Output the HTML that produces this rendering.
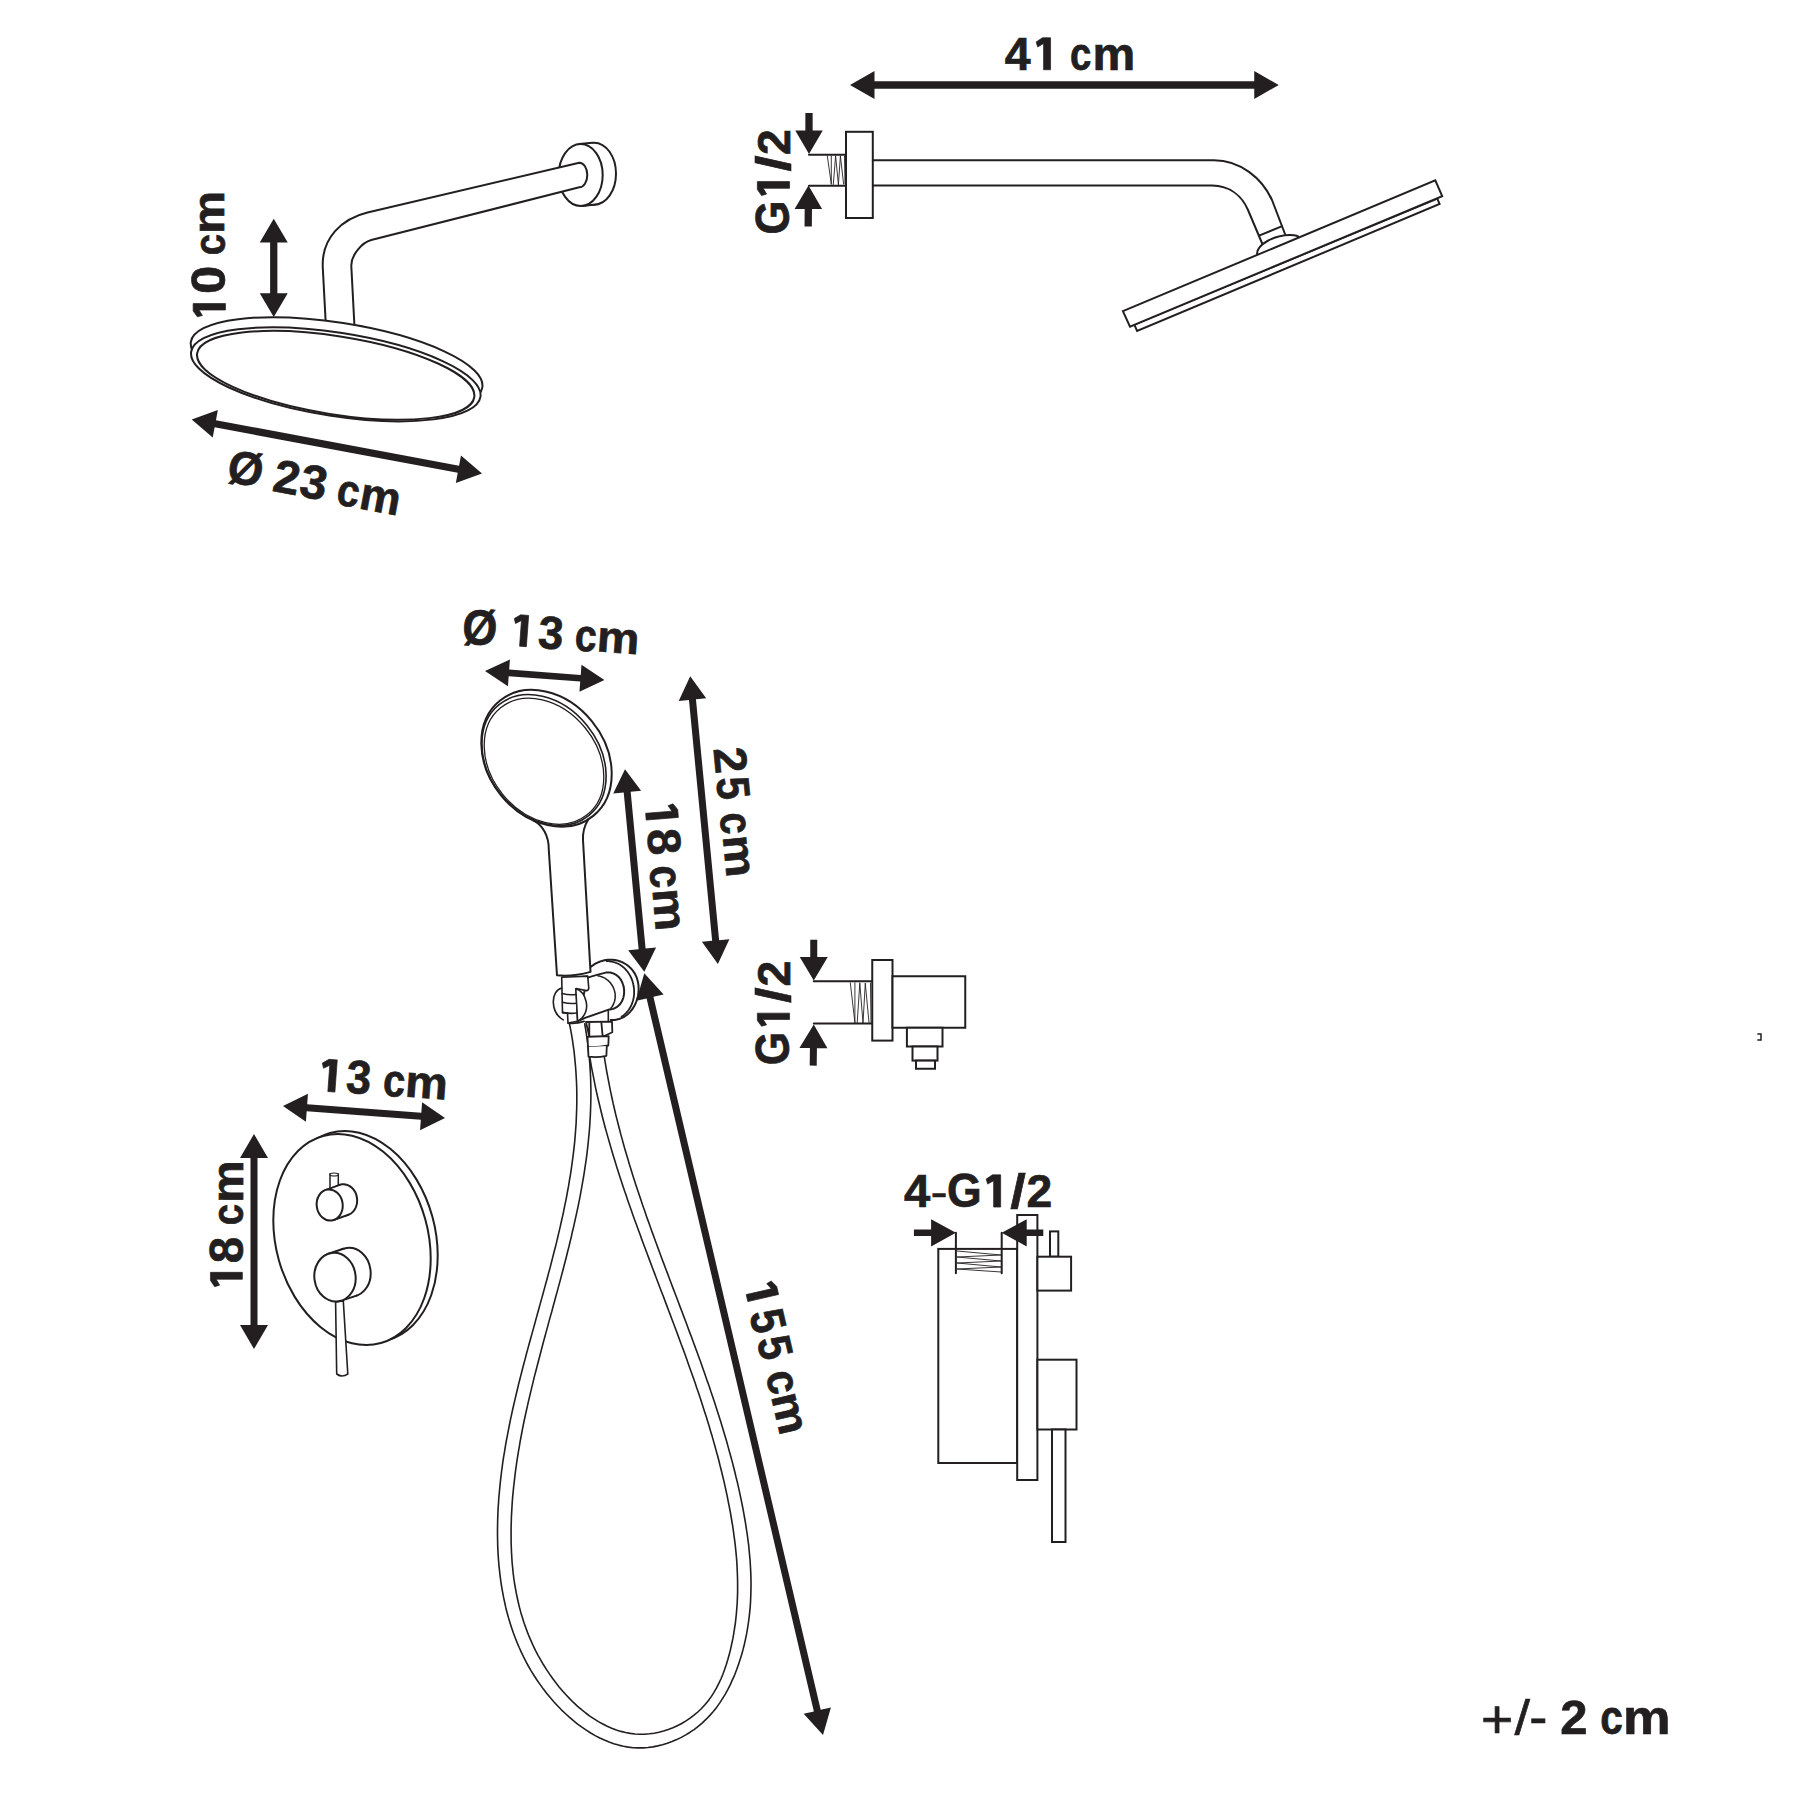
<!DOCTYPE html>
<html><head><meta charset="utf-8"><style>
html,body{margin:0;padding:0;background:#fff;width:1800px;height:1800px;overflow:hidden}
svg{display:block}
text{font-family:"Liberation Sans",sans-serif;fill:#231f20;stroke:#231f20;stroke-width:0.7px}
</style></head><body>
<svg width="1800" height="1800" viewBox="0 0 1800 1800">
<rect width="1800" height="1800" fill="#fff"/>
<ellipse cx="594" cy="173.7" rx="22" ry="31" transform="rotate(0 594 173.7)" fill="#fff" stroke="#231f20" stroke-width="2"/>
<polygon points="582.23,205.92 595.53,204.62 592.47,142.78 579.17,144.08" fill="#fff"/>
<path d="M582.23,205.92 L595.53,204.62 M579.17,144.08 L592.47,142.78" fill="none" stroke="#231f20" stroke-width="2" stroke-linejoin="round" stroke-linecap="round"/>
<ellipse cx="580.7" cy="175" rx="22" ry="31" transform="rotate(0 580.7 175)" fill="#fff" stroke="#231f20" stroke-width="2"/>
<path d="M325.6,322 L322.8,268 C321,238 342.5,218.4 367.5,212.5 L579.3,162.7 A8 12.3 0 0 1 579.3,187.3 L371.25,240 C362,242.5 351,255 351.3,266 L354.4,326 Z" fill="#fff"/>
<path d="M325.6,320.6 L322.8,268 C321,238 342.5,218.4 367.5,212.5 L579.3,162.7 A8 12.3 0 0 1 579.3,187.3 L371.25,240 C362,242.5 351,255 351.3,266 L354.4,325" fill="none" stroke="#231f20" stroke-width="2" stroke-linejoin="round" stroke-linecap="round"/>
<ellipse cx="336.6" cy="364.6" rx="147.5" ry="42" transform="rotate(8.86 336.6 364.6)" fill="#fff" stroke="#231f20" stroke-width="2"/>
<ellipse cx="335.8" cy="374.3" rx="146.4" ry="41.7" transform="rotate(8.86 335.8 374.3)" fill="#fff" stroke="#231f20" stroke-width="2"/>
<ellipse cx="335.7" cy="375.3" rx="140.3" ry="39.1" transform="rotate(9 335.7 375.3)" fill="none" stroke="#231f20" stroke-width="2"/>
<polygon points="273.75,218.75 259.75,242.5 270.12,242.5 270.12,293.25 259.75,293.25 273.75,317 287.75,293.25 277.38,293.25 277.38,242.5 287.75,242.5" fill="#231f20"/>
<polygon points="191.7,419.4 212.72,437.57 214.63,427.37 457.74,472.76 455.84,482.96 482,473.6 460.98,455.43 459.07,465.63 215.96,420.24 217.86,410.04" fill="#231f20"/>
<polygon points="850,85 874.5,99 874.5,88.75 1254.25,88.75 1254.25,99 1278.75,85 1254.25,71 1254.25,81.25 874.5,81.25 874.5,71" fill="#231f20"/>
<polygon points="805.35,113 805.35,130.5 795.25,130.5 809,154 822.75,130.5 812.65,130.5 812.65,113" fill="#231f20"/>
<polygon points="811.85,226.53 811.98,209.03 822.08,209.1 808.5,185.5 794.58,208.9 804.68,208.97 804.55,226.47" fill="#231f20"/>
<path d="M809,154.8 H846 M809,185.8 H846" fill="none" stroke="#231f20" stroke-width="2" stroke-linejoin="round" stroke-linecap="round"/>
<path d="M827.3,155.8 L831.3,184 M831.3,155.8 L831.3,184 M835.6,156 L833.3,184.5 M835.6,156 L838.4,184.5 M840.4,156.2 L838.4,184.5 M840.4,156.2 L843.6,184 M844.5,156 L845,184" fill="none" stroke="#231f20" stroke-width="0.9" stroke-linejoin="round" stroke-linecap="round"/>
<rect x="846" y="131.8" width="26.8" height="86.2" fill="#fff" stroke="#231f20" stroke-width="2"/>
<path d="M872.8,160.2 H1214 C1240,160.2 1262,178 1272,200 L1285,234" fill="none" stroke="#231f20" stroke-width="2" stroke-linejoin="round" stroke-linecap="round"/>
<path d="M872.8,185.6 H1212 C1230,186 1242,196 1248,210 L1262.4,244" fill="none" stroke="#231f20" stroke-width="2" stroke-linejoin="round" stroke-linecap="round"/>
<path d="M1259,235.6 L1281.6,226.4" fill="none" stroke="#231f20" stroke-width="2" stroke-linejoin="round" stroke-linecap="round"/>
<path d="M1257,254 C1257,244 1275,235 1290,235 C1296,235 1299,236 1298,237.5" fill="#fff" stroke="#231f20" stroke-width="2" stroke-linejoin="round" stroke-linecap="round"/>
<polygon points="1134.2,324.4 1437.3,198.7 1439.6,204 1137.1,330.9" fill="#fff" stroke="#231f20" stroke-width="2" stroke-linejoin="miter"/>
<polygon points="1122.9,311.1 1435.3,180.4 1442.2,196.2 1130,326.7" fill="#fff" stroke="#231f20" stroke-width="2" stroke-linejoin="miter"/>
<polygon points="485,671.1 507.93,686.35 508.68,676.22 580.22,681.56 579.46,691.68 604.4,680 581.47,664.75 580.72,674.88 509.18,669.54 509.94,659.42" fill="#231f20"/>
<ellipse cx="546.5" cy="758.35" rx="58.6" ry="74.1" transform="rotate(-39.1 546.5 758.35)" fill="#fff" stroke="#231f20" stroke-width="2"/>
<ellipse cx="544" cy="760" rx="55.2" ry="71.3" transform="rotate(-39.1 544 760)" fill="none" stroke="#231f20" stroke-width="1.6"/>
<ellipse cx="544" cy="761.2" rx="53" ry="68.8" transform="rotate(-39.1 544 761.2)" fill="none" stroke="#231f20" stroke-width="1.3"/>
<polygon points="690.2,676.3 678.72,701.01 688.97,700.03 712.16,940.84 701.91,941.83 717.9,963.9 729.38,939.19 719.13,940.17 695.94,699.36 706.19,698.37" fill="#231f20"/>
<polygon points="625,769.2 613.24,793.42 623.7,792.43 638.63,949.24 628.18,950.23 644.3,971.8 656.06,947.58 645.6,948.57 630.67,791.76 641.12,790.77" fill="#231f20"/>
<polygon points="810.25,939.75 810.25,956.9 799.75,956.9 813.75,980.6 827.75,956.9 817.25,956.9 817.25,939.75" fill="#231f20"/>
<polygon points="816.7,1065.65 816.93,1048.14 827.43,1048.28 813.75,1024.4 799.43,1047.91 809.93,1048.05 809.7,1065.55" fill="#231f20"/>
<path d="M813.75,981.25 H872.25 M813.75,1023.5 H872.25" fill="none" stroke="#231f20" stroke-width="2" stroke-linejoin="round" stroke-linecap="round"/>
<path d="M850.3,982.8 L854.9,1022.5 M854.9,982.8 L854.9,1022.5 M859.8,983.2 L857.2,1023 M859.8,983.2 L863,1023 M865.3,983.5 L863,1023 M865.3,983.5 L869,1022.5 M870.5,983 L871,1022.5" fill="none" stroke="#231f20" stroke-width="0.9" stroke-linejoin="round" stroke-linecap="round"/>
<rect x="872.25" y="960" width="20.25" height="80.6" fill="#fff" stroke="#231f20" stroke-width="2"/>
<rect x="892.5" y="976.25" width="72.75" height="51.5" fill="#fff" stroke="#231f20" stroke-width="2"/>
<rect x="906.9" y="1027.75" width="35.6" height="18.75" fill="#fff" stroke="#231f20" stroke-width="2"/>
<rect x="912.5" y="1046.5" width="25" height="14.1" fill="#fff" stroke="#231f20" stroke-width="2"/>
<rect x="916" y="1060.6" width="19" height="8.15" fill="#fff" stroke="#231f20" stroke-width="2"/>
<polygon points="283,1106 305.9,1121.73 306.68,1111.26 420.81,1119.72 420.03,1130.19 445,1118 422.1,1102.27 421.32,1112.74 307.19,1104.28 307.97,1093.81" fill="#231f20"/>
<polygon points="254,1134 240,1158 250.5,1158 250.5,1325 240,1325 254,1349 268,1325 257.5,1325 257.5,1158 268,1158" fill="#231f20"/>
<ellipse cx="359" cy="1236.5" rx="76" ry="107.5" transform="rotate(-15.6 359 1236.5)" fill="#fff" stroke="#231f20" stroke-width="2"/>
<ellipse cx="352" cy="1239.5" rx="76" ry="107.5" transform="rotate(-15.6 352 1239.5)" fill="#fff" stroke="#231f20" stroke-width="2"/>
<rect x="330" y="1174" width="8.3" height="15.4" fill="#fff" stroke="#231f20" stroke-width="1.5"/>
<ellipse cx="334.15" cy="1174.5" rx="4.1" ry="1.5" transform="rotate(0 334.15 1174.5)" fill="#fff" stroke="#231f20" stroke-width="1.2"/>
<ellipse cx="344.1" cy="1199.8" rx="13" ry="15.6" transform="rotate(-8 344.1 1199.8)" fill="#fff" stroke="#231f20" stroke-width="2"/>
<polygon points="334.07,1219.9 348.47,1214.7 339.73,1184.9 325.33,1190.1" fill="#fff"/>
<path d="M334.07,1219.9 L348.47,1214.7 M325.33,1190.1 L339.73,1184.9" fill="none" stroke="#231f20" stroke-width="2" stroke-linejoin="round" stroke-linecap="round"/>
<ellipse cx="329.7" cy="1205" rx="13" ry="15.6" transform="rotate(-8 329.7 1205)" fill="#fff" stroke="#231f20" stroke-width="2"/>
<path d="M335.6,1302 L336.7,1374 Q342,1378 347.8,1374 L343.3,1301 Z" fill="#fff" stroke="#231f20" stroke-width="1.6" stroke-linejoin="round" stroke-linecap="round"/>
<ellipse cx="350" cy="1272.2" rx="20.6" ry="24.4" transform="rotate(-8 350 1272.2)" fill="#fff" stroke="#231f20" stroke-width="2"/>
<polygon points="341.55,1300.62 356.55,1295.62 343.45,1248.78 328.45,1253.78" fill="#fff"/>
<path d="M341.55,1300.62 L356.55,1295.62 M328.45,1253.78 L343.45,1248.78" fill="none" stroke="#231f20" stroke-width="2" stroke-linejoin="round" stroke-linecap="round"/>
<ellipse cx="335" cy="1277.2" rx="20.6" ry="24.4" transform="rotate(-8 335 1277.2)" fill="#fff" stroke="#231f20" stroke-width="2"/>
<rect x="938.3" y="1248.9" width="78.9" height="214.1" fill="#fff" stroke="#231f20" stroke-width="2"/>
<path d="M955.9,1232.8 V1273.3 M1001.7,1232.8 V1273.3" fill="none" stroke="#231f20" stroke-width="2" stroke-linejoin="round" stroke-linecap="round"/>
<path d="M957,1251 L1001,1255 L957,1257 L1001,1261 L957,1263 L1001,1267 L957,1269 L1001,1272" fill="none" stroke="#231f20" stroke-width="0.9" stroke-linejoin="round" stroke-linecap="round"/>
<rect x="1017.2" y="1215" width="20.2" height="265" fill="#fff" stroke="#231f20" stroke-width="2"/>
<rect x="1050" y="1231.4" width="8.3" height="25.3" fill="#fff" stroke="#231f20" stroke-width="2"/>
<rect x="1037.4" y="1256.7" width="33.7" height="33.9" fill="#fff" stroke="#231f20" stroke-width="2"/>
<rect x="1037.4" y="1359.7" width="39.1" height="69.8" fill="#fff" stroke="#231f20" stroke-width="2"/>
<rect x="1052" y="1429.5" width="13.5" height="112.5" fill="#fff" stroke="#231f20" stroke-width="2"/>
<polygon points="913.9,1236 931.1,1236 931.1,1246.4 955.9,1232.8 931.1,1219.2 931.1,1229.6 913.9,1229.6" fill="#231f20"/>
<polygon points="1043.3,1229.6 1026.7,1229.6 1026.7,1219.2 1001.7,1232.8 1026.7,1246.4 1026.7,1236 1043.3,1236" fill="#231f20"/>
<path d="M569.4,1023.5 L570.5,1028.9 L571.5,1034.3 L572.4,1039.6 L573.1,1044.9 L573.9,1050.2 L574.5,1055.6 L575.0,1060.9 L575.5,1066.2 L575.9,1071.4 L576.2,1076.7 L576.5,1082.0 L576.7,1087.2 L576.8,1092.5 L576.8,1097.7 L576.8,1103.0 L576.7,1108.2 L576.5,1113.4 L576.3,1118.6 L576.1,1123.8 L575.7,1129.0 L575.3,1134.2 L574.9,1139.4 L574.4,1144.6 L573.8,1149.8 L573.2,1154.9 L572.5,1160.1 L571.8,1165.3 L571.1,1170.4 L570.3,1175.6 L569.4,1180.7 L568.6,1185.8 L567.6,1191.0 L566.7,1196.1 L565.7,1201.2 L564.6,1206.3 L563.6,1211.5 L562.5,1216.6 L561.3,1221.7 L560.2,1226.8 L559.0,1231.9 L557.8,1237.0 L556.6,1242.1 L555.3,1247.2 L554.0,1252.3 L552.7,1257.4 L551.4,1262.5 L550.1,1267.6 L548.7,1272.6 L547.4,1277.7 L546.0,1282.8 L544.6,1287.9 L543.2,1293.0 L541.8,1298.1 L540.4,1303.1 L539.0,1308.2 L537.6,1313.3 L536.2,1318.4 L534.8,1323.5 L533.4,1328.6 L532.0,1333.6 L530.6,1338.7 L529.2,1343.8 L527.8,1348.9 L526.4,1354.0 L525.1,1359.1 L523.7,1364.2 L522.4,1369.3 L521.1,1374.4 L519.8,1379.5 L518.5,1384.6 L517.3,1389.7 L516.1,1394.8 L514.9,1399.9 L513.7,1405.0 L512.5,1410.2 L511.4,1415.3 L510.3,1420.4 L509.3,1425.5 L508.3,1430.7 L507.3,1435.8 L506.3,1441.0 L505.4,1446.1 L504.6,1451.3 L503.7,1456.4 L502.9,1461.6 L502.2,1466.8 L501.5,1472.0 L500.9,1477.1 L500.3,1482.3 L499.8,1487.5 L499.3,1492.7 L498.8,1498.0 L498.5,1503.2 L498.1,1508.4 L497.9,1513.6 L497.7,1518.9 L497.6,1524.1 L497.5,1529.4 L497.5,1534.7 L497.6,1539.9 L497.7,1545.2 L497.9,1550.4 L498.2,1555.7 L498.6,1561.0 L499.0,1566.2 L499.6,1571.4 L500.2,1576.7 L500.9,1581.9 L501.7,1587.1 L502.6,1592.2 L503.6,1597.4 L504.7,1602.5 L505.8,1607.7 L507.1,1612.7 L508.5,1617.8 L510.0,1622.8 L511.6,1627.8 L513.3,1632.8 L515.2,1637.7 L517.1,1642.6 L519.2,1647.5 L521.4,1652.3 L523.7,1657.1 L526.1,1661.8 L528.6,1666.5 L531.3,1671.1 L534.2,1675.7 L537.1,1680.2 L540.2,1684.6 L543.4,1689.1 L546.8,1693.4 L550.2,1697.6 L553.8,1701.8 L557.5,1705.8 L561.4,1709.8 L565.3,1713.5 L569.3,1717.2 L573.4,1720.7 L577.6,1724.1 L581.9,1727.2 L586.3,1730.2 L590.7,1733.0 L595.2,1735.6 L599.8,1738.0 L604.4,1740.1 L609.1,1742.1 L613.8,1743.7 L618.6,1745.1 L623.4,1746.2 L628.3,1747.1 L633.2,1747.7 L638.1,1747.9 L643.0,1747.9 L647.9,1747.5 L652.8,1746.9 L657.7,1745.9 L662.5,1744.8 L667.3,1743.3 L672.0,1741.6 L676.7,1739.6 L681.3,1737.4 L685.8,1734.9 L690.1,1732.2 L694.4,1729.3 L698.5,1726.1 L702.4,1722.8 L706.2,1719.2 L709.9,1715.4 L713.3,1711.5 L716.6,1707.4 L719.6,1703.1 L722.5,1698.6 L725.3,1694.1 L727.9,1689.4 L730.3,1684.6 L732.5,1679.7 L734.7,1674.8 L736.6,1669.8 L738.4,1664.7 L740.1,1659.6 L741.7,1654.5 L743.1,1649.4 L744.4,1644.2 L745.5,1639.1 L746.6,1633.9 L747.5,1628.7 L748.3,1623.5 L749.0,1618.3 L749.6,1613.1 L750.1,1607.9 L750.5,1602.6 L750.7,1597.4 L750.9,1592.1 L751.0,1586.9 L751.0,1581.6 L750.9,1576.4 L750.7,1571.1 L750.4,1565.8 L750.1,1560.5 L749.6,1555.3 L749.1,1550.0 L748.6,1544.7 L747.9,1539.5 L747.2,1534.2 L746.4,1529.0 L745.6,1523.7 L744.7,1518.5 L743.8,1513.3 L742.8,1508.0 L741.8,1502.8 L740.7,1497.6 L739.6,1492.4 L738.5,1487.3 L737.3,1482.1 L736.0,1477.0 L734.8,1471.8 L733.5,1466.7 L732.2,1461.6 L730.8,1456.5 L729.4,1451.5 L728.0,1446.4 L726.6,1441.3 L725.1,1436.3 L723.6,1431.2 L722.1,1426.2 L720.6,1421.2 L719.0,1416.2 L717.4,1411.2 L715.8,1406.2 L714.2,1401.2 L712.5,1396.2 L710.8,1391.3 L709.2,1386.3 L707.4,1381.4 L705.7,1376.4 L704.0,1371.5 L702.2,1366.5 L700.5,1361.6 L698.7,1356.7 L696.9,1351.8 L695.1,1346.9 L693.3,1341.9 L691.5,1337.0 L689.6,1332.1 L687.8,1327.2 L686.0,1322.3 L684.1,1317.4 L682.3,1312.5 L680.4,1307.6 L678.6,1302.7 L676.7,1297.8 L674.9,1293.0 L673.0,1288.1 L671.2,1283.2 L669.3,1278.3 L667.5,1273.4 L665.6,1268.5 L663.8,1263.6 L661.9,1258.7 L660.1,1253.8 L658.3,1248.9 L656.5,1244.0 L654.7,1239.0 L652.9,1234.1 L651.1,1229.2 L649.4,1224.3 L647.6,1219.4 L645.9,1214.4 L644.2,1209.5 L642.4,1204.5 L640.8,1199.6 L639.1,1194.6 L637.4,1189.6 L635.8,1184.7 L634.2,1179.7 L632.6,1174.7 L631.1,1169.7 L629.5,1164.7 L628.0,1159.6 L626.5,1154.6 L625.0,1149.6 L623.6,1144.5 L622.2,1139.4 L620.8,1134.4 L619.5,1129.3 L618.2,1124.2 L616.9,1119.1 L615.6,1114.0 L614.4,1108.8 L613.2,1103.7 L612.1,1098.5 L611.0,1093.3 L609.9,1088.1 L608.9,1082.9 L607.9,1077.7 L606.9,1072.5 L606.0,1067.2 L605.1,1061.9 L604.3,1056.7" fill="none" stroke="#231f20" stroke-width="1.6" stroke-linejoin="round" stroke-linecap="round"/>
<path d="M584.7,1023.8 L585.6,1029.0 L586.4,1034.2 L587.2,1039.3 L587.9,1044.5 L588.5,1049.7 L589.0,1054.8 L589.5,1060.0 L589.9,1065.1 L590.2,1070.2 L590.5,1075.4 L590.7,1080.5 L590.8,1085.6 L590.9,1090.7 L590.9,1095.8 L590.8,1100.9 L590.7,1106.0 L590.5,1111.1 L590.3,1116.1 L590.0,1121.2 L589.7,1126.3 L589.3,1131.3 L588.8,1136.4 L588.3,1141.5 L587.8,1146.5 L587.2,1151.6 L586.6,1156.6 L585.9,1161.6 L585.1,1166.7 L584.4,1171.7 L583.6,1176.7 L582.7,1181.7 L581.8,1186.8 L580.9,1191.8 L580.0,1196.8 L579.0,1201.8 L578.0,1206.8 L576.9,1211.8 L575.8,1216.8 L574.7,1221.8 L573.6,1226.8 L572.4,1231.8 L571.3,1236.8 L570.1,1241.8 L568.9,1246.8 L567.6,1251.7 L566.4,1256.7 L565.1,1261.7 L563.8,1266.7 L562.5,1271.7 L561.2,1276.6 L559.9,1281.6 L558.5,1286.6 L557.2,1291.6 L555.8,1296.5 L554.5,1301.5 L553.1,1306.5 L551.8,1311.5 L550.4,1316.4 L549.0,1321.4 L547.7,1326.4 L546.3,1331.4 L545.0,1336.3 L543.6,1341.3 L542.3,1346.3 L541.0,1351.2 L539.7,1356.2 L538.4,1361.2 L537.1,1366.2 L535.8,1371.2 L534.5,1376.1 L533.3,1381.1 L532.1,1386.1 L530.9,1391.1 L529.7,1396.1 L528.5,1401.1 L527.4,1406.1 L526.3,1411.0 L525.2,1416.0 L524.1,1421.0 L523.1,1426.0 L522.1,1431.0 L521.2,1436.0 L520.2,1441.1 L519.4,1446.1 L518.5,1451.1 L517.7,1456.1 L516.9,1461.1 L516.2,1466.1 L515.5,1471.2 L514.9,1476.2 L514.3,1481.3 L513.7,1486.3 L513.2,1491.3 L512.7,1496.4 L512.3,1501.4 L512.0,1506.5 L511.7,1511.6 L511.4,1516.6 L511.3,1521.7 L511.1,1526.8 L511.1,1531.9 L511.1,1537.0 L511.1,1542.0 L511.3,1547.1 L511.5,1552.2 L511.8,1557.3 L512.1,1562.3 L512.6,1567.4 L513.1,1572.5 L513.7,1577.5 L514.4,1582.5 L515.3,1587.5 L516.2,1592.6 L517.2,1597.5 L518.3,1602.5 L519.5,1607.5 L520.8,1612.4 L522.3,1617.3 L523.8,1622.2 L525.5,1627.0 L527.3,1631.9 L529.2,1636.7 L531.3,1641.4 L533.4,1646.2 L535.7,1650.9 L538.2,1655.6 L540.8,1660.2 L543.5,1664.8 L546.4,1669.4 L549.4,1673.9 L552.5,1678.3 L555.7,1682.6 L559.1,1686.9 L562.6,1691.0 L566.2,1695.0 L569.9,1698.9 L573.7,1702.7 L577.6,1706.3 L581.6,1709.7 L585.7,1713.0 L589.8,1716.1 L594.1,1718.9 L598.4,1721.6 L602.8,1724.0 L607.2,1726.3 L611.7,1728.2 L616.3,1729.9 L620.9,1731.4 L625.6,1732.5 L630.3,1733.4 L635.0,1734.0 L639.8,1734.2 L644.6,1734.2 L649.4,1733.8 L654.2,1733.2 L658.9,1732.2 L663.6,1731.0 L668.3,1729.5 L672.9,1727.8 L677.3,1725.7 L681.7,1723.5 L686.0,1720.9 L690.1,1718.2 L694.0,1715.2 L697.8,1712.0 L701.5,1708.5 L704.9,1704.8 L708.1,1701.0 L711.1,1696.9 L713.8,1692.6 L716.4,1688.2 L718.7,1683.7 L720.9,1679.0 L722.9,1674.2 L724.7,1669.3 L726.4,1664.3 L727.9,1659.3 L729.3,1654.2 L730.6,1649.1 L731.7,1644.0 L732.8,1638.9 L733.7,1633.8 L734.5,1628.7 L735.3,1623.6 L735.9,1618.4 L736.4,1613.3 L736.8,1608.2 L737.2,1603.0 L737.4,1597.9 L737.6,1592.8 L737.6,1587.6 L737.6,1582.5 L737.5,1577.3 L737.3,1572.2 L737.1,1567.1 L736.8,1561.9 L736.4,1556.8 L735.9,1551.7 L735.4,1546.6 L734.8,1541.4 L734.1,1536.3 L733.4,1531.2 L732.7,1526.1 L731.8,1521.0 L731.0,1516.0 L730.1,1510.9 L729.1,1505.8 L728.1,1500.8 L727.1,1495.7 L726.0,1490.7 L724.9,1485.7 L723.8,1480.7 L722.6,1475.7 L721.4,1470.7 L720.1,1465.8 L718.9,1460.8 L717.6,1455.8 L716.2,1450.9 L714.9,1446.0 L713.5,1441.1 L712.1,1436.1 L710.6,1431.2 L709.2,1426.3 L707.7,1421.5 L706.2,1416.6 L704.6,1411.7 L703.1,1406.9 L701.5,1402.0 L699.9,1397.1 L698.3,1392.3 L696.6,1387.5 L695.0,1382.6 L693.3,1377.8 L691.6,1373.0 L689.9,1368.2 L688.2,1363.4 L686.5,1358.6 L684.8,1353.7 L683.0,1348.9 L681.2,1344.2 L679.5,1339.4 L677.7,1334.6 L675.9,1329.8 L674.1,1325.0 L672.3,1320.2 L670.5,1315.4 L668.7,1310.7 L666.9,1305.9 L665.1,1301.1 L663.3,1296.3 L661.4,1291.5 L659.6,1286.8 L657.8,1282.0 L656.0,1277.2 L654.2,1272.4 L652.4,1267.7 L650.6,1262.9 L648.8,1258.1 L647.0,1253.3 L645.2,1248.5 L643.4,1243.7 L641.6,1238.9 L639.9,1234.1 L638.1,1229.3 L636.4,1224.5 L634.6,1219.7 L632.9,1214.9 L631.2,1210.1 L629.5,1205.3 L627.8,1200.4 L626.2,1195.6 L624.5,1190.8 L622.9,1185.9 L621.3,1181.1 L619.7,1176.2 L618.2,1171.4 L616.6,1166.5 L615.1,1161.6 L613.6,1156.7 L612.1,1151.8 L610.7,1146.9 L609.3,1142.0 L607.9,1137.1 L606.5,1132.1 L605.1,1127.2 L603.8,1122.3 L602.5,1117.3 L601.3,1112.3 L600.1,1107.3 L598.9,1102.3 L597.7,1097.3 L596.6,1092.3 L595.5,1087.3 L594.5,1082.3 L593.5,1077.2 L592.5,1072.1 L591.5,1067.1 L590.6,1062.0 L589.8,1056.9" fill="none" stroke="#231f20" stroke-width="1.6" stroke-linejoin="round" stroke-linecap="round"/>
<polygon points="644.3,973.3 636.38,1000.84 646.6,998.44 813.88,1711.46 803.66,1713.86 823,1735 830.92,1707.46 820.7,1709.86 653.42,996.84 663.64,994.44" fill="#231f20"/>
<path d="M590.6,967.1 L591.3,966.4 L592.1,965.8 L592.9,965.3 L593.8,964.7 L594.6,964.2 L595.5,963.7 L596.3,963.2 L597.2,962.8 L598.1,962.4 L599.0,962.0 L599.9,961.6 L600.8,961.3 L601.8,961.0 L602.7,960.7 L603.7,960.5 L604.6,960.3 L605.5,960.1 L606.5,960.0 L607.5,959.8 L608.4,959.8 L609.4,959.7 L610.3,959.7 L611.3,959.7 L612.2,959.7 L613.2,959.8 L614.1,959.9 L615.0,960.0 L616.0,960.2 L616.9,960.4 L617.8,960.6 L618.7,960.9 L619.6,961.2 L620.5,961.5 L621.3,961.9 L622.2,962.2 L623.0,962.6 L623.9,963.1 L624.7,963.5 L625.5,964.0 L626.3,964.5 L627.0,965.0 L627.8,965.6 L628.5,966.2 L629.2,966.8 L629.9,967.4 L630.5,968.0 L631.2,968.7 L631.8,969.4 L632.4,970.1 L633.0,970.8 L633.5,971.6 L634.0,972.4 L634.5,973.1 L635.0,973.9 L635.4,974.8 L635.8,975.6 L636.2,976.4 L636.6,977.3 L636.9,978.2 L637.2,979.1 L637.4,980.0 L637.7,980.9 L637.9,981.8 L638.1,982.7 L638.2,983.6 L638.4,984.6 L638.5,985.5 L638.5,986.5 L638.6,987.4 L638.6,988.4 L638.6,989.4 L638.6,990.3 L638.5,991.3 L638.5,992.3 L638.3,993.2 L638.2,994.2 L638.1,995.1 L637.9,996.1 L637.7,997.0 L637.4,998.0 L637.2,998.9 L636.9,999.8 L636.6,1000.7 L636.3,1001.6 L635.9,1002.5 L635.6,1003.4 L635.2,1004.3 L634.7,1005.2 L634.3,1006.0 L633.8,1006.8 L633.3,1007.6 L632.8,1008.4 L632.3,1009.2 L631.7,1010.0 L631.1,1010.7 L630.5,1011.4 L629.9,1012.1 L629.2,1012.8 L628.6,1013.4 L627.9,1014.1 L627.1,1014.7 L626.4,1015.2 L625.6,1015.8 L624.9,1016.3 L624.1,1016.8 L623.2,1017.3 L622.4,1017.7 L621.5,1018.1 L620.6,1018.4 L619.7,1018.8 L618.8,1019.1 L617.9,1019.3 L616.9,1019.6 L615.9,1019.7 L614.9,1019.9 L613.9,1020.0 L612.8,1020.1 L611.8,1020.1 L610.7,1020.1 L590,1020 L588,975 Z" fill="#fff" stroke="#231f20" stroke-width="0" stroke-linejoin="round" stroke-linecap="round" stroke="none"/>
<path d="M590.6,967.1 L591.3,966.4 L592.1,965.8 L592.9,965.3 L593.8,964.7 L594.6,964.2 L595.5,963.7 L596.3,963.2 L597.2,962.8 L598.1,962.4 L599.0,962.0 L599.9,961.6 L600.8,961.3 L601.8,961.0 L602.7,960.7 L603.7,960.5 L604.6,960.3 L605.5,960.1 L606.5,960.0 L607.5,959.8 L608.4,959.8 L609.4,959.7 L610.3,959.7 L611.3,959.7 L612.2,959.7 L613.2,959.8 L614.1,959.9 L615.0,960.0 L616.0,960.2 L616.9,960.4 L617.8,960.6 L618.7,960.9 L619.6,961.2 L620.5,961.5 L621.3,961.9 L622.2,962.2 L623.0,962.6 L623.9,963.1 L624.7,963.5 L625.5,964.0 L626.3,964.5 L627.0,965.0 L627.8,965.6 L628.5,966.2 L629.2,966.8 L629.9,967.4 L630.5,968.0 L631.2,968.7 L631.8,969.4 L632.4,970.1 L633.0,970.8 L633.5,971.6 L634.0,972.4 L634.5,973.1 L635.0,973.9 L635.4,974.8 L635.8,975.6 L636.2,976.4 L636.6,977.3 L636.9,978.2 L637.2,979.1 L637.4,980.0 L637.7,980.9 L637.9,981.8 L638.1,982.7 L638.2,983.6 L638.4,984.6 L638.5,985.5 L638.5,986.5 L638.6,987.4 L638.6,988.4 L638.6,989.4 L638.6,990.3 L638.5,991.3 L638.5,992.3 L638.3,993.2 L638.2,994.2 L638.1,995.1 L637.9,996.1 L637.7,997.0 L637.4,998.0 L637.2,998.9 L636.9,999.8 L636.6,1000.7 L636.3,1001.6 L635.9,1002.5 L635.6,1003.4 L635.2,1004.3 L634.7,1005.2 L634.3,1006.0 L633.8,1006.8 L633.3,1007.6 L632.8,1008.4 L632.3,1009.2 L631.7,1010.0 L631.1,1010.7 L630.5,1011.4 L629.9,1012.1 L629.2,1012.8 L628.6,1013.4 L627.9,1014.1 L627.1,1014.7 L626.4,1015.2 L625.6,1015.8 L624.9,1016.3 L624.1,1016.8 L623.2,1017.3 L622.4,1017.7 L621.5,1018.1 L620.6,1018.4 L619.7,1018.8 L618.8,1019.1 L617.9,1019.3 L616.9,1019.6 L615.9,1019.7 L614.9,1019.9 L613.9,1020.0 L612.8,1020.1 L611.8,1020.1 L610.7,1020.1" fill="none" stroke="#231f20" stroke-width="2" stroke-linejoin="round" stroke-linecap="round"/>
<path d="M606.6,961.1 L607.3,961.2 L608.0,961.2 L608.7,961.2 L609.4,961.3 L610.0,961.4 L610.7,961.5 L611.4,961.6 L612.0,961.7 L612.7,961.8 L613.3,962.0 L613.9,962.2 L614.5,962.3 L615.1,962.5 L615.7,962.8 L616.3,963.0 L616.9,963.2 L617.5,963.5 L618.1,963.7 L618.6,964.0 L619.2,964.3 L619.7,964.6 L620.2,964.9 L620.7,965.3 L621.3,965.6 L621.8,966.0 L622.2,966.3 L622.7,966.7 L623.2,967.1 L623.7,967.5 L624.1,967.9 L624.6,968.3 L625.0,968.7 L625.4,969.2 L625.8,969.6 L626.2,970.1 L626.6,970.5 L627.0,971.0 L627.4,971.5 L627.8,972.0 L628.1,972.5 L628.5,973.0 L628.8,973.5 L629.1,974.0 L629.5,974.5 L629.8,975.1 L630.1,975.6 L630.4,976.2 L630.6,976.7 L630.9,977.3 L631.2,977.8 L631.4,978.4 L631.6,979.0 L631.9,979.6 L632.1,980.1 L632.3,980.7 L632.5,981.3 L632.7,981.9 L632.8,982.5 L633.0,983.1 L633.2,983.7 L633.3,984.3 L633.4,985.0 L633.5,985.6 L633.7,986.2 L633.7,986.8 L633.8,987.4 L633.9,988.0 L634.0,988.7 L634.0,989.3 L634.1,989.9 L634.1,990.5 L634.1,991.2 L634.1,991.8 L634.1,992.4 L634.1,993.1 L634.1,993.7 L634.1,994.3 L634.0,994.9 L633.9,995.5 L633.9,996.2 L633.8,996.8 L633.7,997.4 L633.6,998.0 L633.5,998.6 L633.3,999.2 L633.2,999.8 L633.0,1000.4 L632.9,1001.0 L632.7,1001.6 L632.5,1002.2 L632.3,1002.8 L632.1,1003.4 L631.9,1004.0 L631.6,1004.6 L631.4,1005.1 L631.1,1005.7 L630.9,1006.3 L630.6,1006.8 L630.3,1007.3 L630.0,1007.9 L629.6,1008.4 L629.3,1008.9 L629.0,1009.5 L628.6,1010.0 L628.2,1010.5 L627.8,1011.0 L627.4,1011.5 L627.0,1012.0 L626.6,1012.4 L626.2,1012.9 L625.7,1013.3 L625.2,1013.8 L624.8,1014.2 L624.3,1014.6 L623.8,1015.1 L623.3,1015.5 L622.7,1015.9 L622.2,1016.3 L621.6,1016.6" fill="none" stroke="#231f20" stroke-width="1.8" stroke-linejoin="round" stroke-linecap="round"/>
<path d="M587.6,977.6 Q598,974.5 606.7,972.4  L606.6,972.4 L607.4,972.4 L608.2,972.4 L609.0,972.4 L609.7,972.5 L610.5,972.6 L611.2,972.8 L611.9,973.0 L612.6,973.2 L613.2,973.4 L613.9,973.7 L614.5,974.0 L615.1,974.3 L615.7,974.6 L616.3,975.0 L616.8,975.4 L617.4,975.8 L617.9,976.3 L618.4,976.7 L618.9,977.2 L619.3,977.7 L619.7,978.2 L620.2,978.8 L620.6,979.3 L620.9,979.9 L621.3,980.5 L621.6,981.1 L621.9,981.7 L622.2,982.3 L622.5,983.0 L622.7,983.6 L623.0,984.3 L623.2,985.0 L623.4,985.6 L623.5,986.3 L623.7,987.0 L623.8,987.7 L623.9,988.4 L624.0,989.1 L624.1,989.8 L624.1,990.5 L624.1,991.2 L624.1,991.9 L624.1,992.6 L624.1,993.3 L624.0,994.0 L623.9,994.7 L623.8,995.4 L623.7,996.1 L623.5,996.7 L623.4,997.4 L623.2,998.1 L623.0,998.7 L622.7,999.4 L622.5,1000.0 L622.2,1000.6 L621.9,1001.2 L621.6,1001.8 L621.2,1002.4 L620.8,1003.0 L620.5,1003.5 L620.0,1004.0 L619.6,1004.6 L619.1,1005.0 L618.7,1005.5 L618.2,1006.0 L617.6,1006.4 L617.1,1006.8 L616.5,1007.2 L615.9,1007.5 L615.3,1007.9 L614.6,1008.2 L614.0,1008.5 L613.3,1008.7 L612.6,1008.9 L611.8,1009.1 L611.1,1009.3 L610.3,1009.4 L609.5,1009.5 L608.7,1009.6 L585,1017.9 L577.6,1021.3 Z" fill="#fff" stroke="#231f20" stroke-width="2" stroke-linejoin="round" stroke-linecap="round"/>
<path d="M597.9,975.8 L598.5,975.9 L599.0,976.0 L599.6,976.1 L600.1,976.3 L600.7,976.4 L601.2,976.6 L601.7,976.8 L602.2,977.0 L602.8,977.2 L603.3,977.4 L603.7,977.6 L604.2,977.9 L604.7,978.1 L605.2,978.4 L605.6,978.7 L606.1,979.0 L606.5,979.3 L606.9,979.6 L607.3,979.9 L607.8,980.2 L608.2,980.6 L608.5,980.9 L608.9,981.3 L609.3,981.7 L609.7,982.1 L610.0,982.4 L610.4,982.8 L610.7,983.3 L611.0,983.7 L611.3,984.1 L611.6,984.5 L611.9,985.0 L612.2,985.4 L612.4,985.9 L612.7,986.3 L612.9,986.8 L613.2,987.2 L613.4,987.7 L613.6,988.2 L613.8,988.7 L614.0,989.2 L614.1,989.7 L614.3,990.2 L614.5,990.7 L614.6,991.2 L614.7,991.7 L614.8,992.2 L614.9,992.7 L615.0,993.2 L615.1,993.7 L615.1,994.2 L615.2,994.8 L615.2,995.3 L615.2,995.8 L615.2,996.3 L615.2,996.8 L615.2,997.4 L615.1,997.9 L615.1,998.4 L615.0,998.9 L614.9,999.5 L614.8,1000.0 L614.7,1000.5 L614.6,1001.0 L614.5,1001.5 L614.3,1002.0 L614.1,1002.5 L613.9,1003.0 L613.7,1003.5 L613.5,1004.0 L613.3,1004.5 L613.0,1005.0 L612.8,1005.5 L612.5,1006.0 L612.2,1006.5 L611.9,1006.9 L611.5,1007.4 L611.2,1007.9 L610.8,1008.3" fill="none" stroke="#231f20" stroke-width="1.5" stroke-linejoin="round" stroke-linecap="round"/>
<path d="M608.3,1010 V1020.5" fill="none" stroke="#231f20" stroke-width="1.6" stroke-linejoin="round" stroke-linecap="round"/>
<path d="M553,920 L557,975.3 Q572,977 590.5,971.9 L587.5,920 Z" fill="#fff"/>
<path d="M532.7,820.2 C543,825 549,836 548.8,850 L557,975.3 Q572,977 590.5,971.9 L583,840 C582.6,832 584.5,825.5 588.2,819.4" fill="none" stroke="#231f20" stroke-width="2" stroke-linejoin="round" stroke-linecap="round"/>
<path d="M562,977.3 Q575,976.8 587.7,975.8" fill="none" stroke="#231f20" stroke-width="1.2" stroke-linejoin="round" stroke-linecap="round"/>
<path d="M561.7,977.3 L587.7,976.2 L588.8,988.2 Q588.5,990.8 586.3,990.6 Q581,989.5 576.2,988.5 L577.6,1021.3 L568,1023 L567.5,1013 L562.5,1013 Z" fill="#fff" stroke="#231f20" stroke-width="1.6" stroke-linejoin="round" stroke-linecap="round"/>
<path d="M562.2,993.5 Q569,995.3 575.8,994.5 M562.5,1002.3 Q569,1004 576.3,1003.3 M562.8,1012.2 Q569,1014 576.8,1013" fill="none" stroke="#231f20" stroke-width="1.6" stroke-linejoin="round" stroke-linecap="round"/>
<path d="M568.2,1023.1 Q576,1024 584.1,1021.3" fill="none" stroke="#231f20" stroke-width="1.8" stroke-linejoin="round" stroke-linecap="round"/>
<path d="M561.7,988.1 C550.5,991 550,1012 563.2,1019.9" fill="none" stroke="#231f20" stroke-width="1.6" stroke-linejoin="round" stroke-linecap="round"/>
<path d="M575.8,988.8 C586,992 591,1009 581.6,1018.3 L577.6,1021.3 Z" fill="#fff" stroke="#231f20" stroke-width="1.6" stroke-linejoin="round" stroke-linecap="round"/>
<path d="M586,1022 L612,1021.7 L612.3,1032.3 L602.7,1036.7 L589.3,1036.7 Z M589.3,1022 V1036.7 M601.3,1022 L602.7,1036.7" fill="#fff" stroke="#231f20" stroke-width="1.8" stroke-linejoin="round" stroke-linecap="round"/>
<path d="M587.5,1036.9 L608.7,1036.2 L608.3,1045.5 Q598,1047.5 588,1047 Z" fill="#fff" stroke="#231f20" stroke-width="1.8" stroke-linejoin="round" stroke-linecap="round"/>
<path d="M588,1047 L588.5,1056.6 Q597,1057.8 606.4,1055.8 L606.8,1046" fill="#fff" stroke="#231f20" stroke-width="1.8" stroke-linejoin="round" stroke-linecap="round"/>
<path d="M1757.3,1034 H1761 V1040 H1757.3" fill="none" stroke="#231f20" stroke-width="1.5" stroke-linejoin="miter"/>
<text transform="translate(1017.9 53.75) rotate(0) translate(-13.154 16.000) scale(0.46486 0.46512)" font-size="100" font-weight="bold" style="stroke-width:1.505px">4</text>
<path transform="translate(1043.35 53.75) rotate(0) translate(-7.200 16.000) scale(0.95364 0.97859)" d="M7.8,0 L15.1,0 L15.1,-32.7 L6.6,-32.7 L0,-28.4 L1.6,-23.3 L7.8,-26.8Z" fill="#231f20" stroke="#231f20" stroke-width="0.725" stroke-linejoin="miter"/>
<text transform="translate(1080.9 57.4) rotate(0) translate(-10.847 12.392) scale(0.38336 0.46911)" font-size="100" font-weight="bold" style="stroke-width:1.642px">c</text>
<text transform="translate(1113.95 57.25) rotate(0) translate(-21.469 12.500) scale(0.48080 0.46419)" font-size="100" font-weight="bold" style="stroke-width:1.481px">m</text>
<text transform="translate(917.3 1190.95) rotate(0) translate(-13.365 16.100) scale(0.47233 0.46803)" font-size="100" font-weight="bold" style="stroke-width:1.489px">4</text>
<text transform="translate(939 1194.85) rotate(0) translate(-8.042 7.834) scale(0.48443 0.30216)" font-size="100" font-weight="bold" style="stroke-width:1.780px">-</text>
<text transform="translate(963.9 1190.75) rotate(0) translate(-16.880 16.726) scale(0.44605 0.48587)" font-size="100" font-weight="bold" style="stroke-width:1.502px">G</text>
<path transform="translate(993.4 1190.95) rotate(0) translate(-7.250 16.100) scale(0.96026 0.98471)" d="M7.8,0 L15.1,0 L15.1,-32.7 L6.6,-32.7 L0,-28.4 L1.6,-23.3 L7.8,-26.8Z" fill="#231f20" stroke="#231f20" stroke-width="0.720" stroke-linejoin="miter"/>
<text transform="translate(1018.1 1191.4) rotate(0) translate(-7.798 16.890) scale(0.56136 0.47943)" font-size="100" font-weight="bold" style="stroke-width:1.345px">/</text>
<text transform="translate(1039.3 1190.95) rotate(0) translate(-12.756 16.100) scale(0.46319 0.46116)" font-size="100" font-weight="bold" style="stroke-width:1.515px">2</text>
<text transform="translate(1497.15 1720.3) rotate(0) translate(-16.093 18.146) scale(0.55162 0.54572)" font-size="100" font-weight="normal" style="stroke-width:1.276px">+</text>
<text transform="translate(1522.2 1717.6) rotate(0) translate(-7.750 17.765) scale(0.55789 0.49702)" font-size="100" font-weight="normal" style="stroke-width:1.327px">/</text>
<text transform="translate(1538.4 1720.85) rotate(0) translate(-9.071 14.280) scale(0.54477 0.53760)" font-size="100" font-weight="normal" style="stroke-width:1.293px">-</text>
<text transform="translate(1573.65 1716.75) rotate(0) translate(-13.499 16.900) scale(0.49019 0.48407)" font-size="100" font-weight="bold" style="stroke-width:1.437px">2</text>
<text transform="translate(1611.65 1721.65) rotate(0) translate(-11.486 12.633) scale(0.40591 0.47823)" font-size="100" font-weight="bold" style="stroke-width:1.583px">c</text>
<text transform="translate(1646.95 1721.35) rotate(0) translate(-23.933 12.800) scale(0.53597 0.47533)" font-size="100" font-weight="bold" style="stroke-width:1.384px">m</text>
<path transform="translate(209.3 310.2) rotate(-90) translate(-6.650 16.150) scale(0.88079 0.98777)" d="M7.8,0 L15.1,0 L15.1,-32.7 L6.6,-32.7 L0,-28.4 L1.6,-23.3 L7.8,-26.8Z" fill="#231f20" stroke="#231f20" stroke-width="0.749" stroke-linejoin="miter"/>
<text transform="translate(208.7 279.85) rotate(-90) translate(-14.113 16.288) scale(0.50885 0.47316)" font-size="100" font-weight="bold" style="stroke-width:1.426px">0</text>
<text transform="translate(212.8 244.5) rotate(-90) translate(-10.847 11.813) scale(0.38336 0.44720)" font-size="100" font-weight="bold" style="stroke-width:1.686px">c</text>
<text transform="translate(212.25 212.25) rotate(-90) translate(-21.469 12.100) scale(0.48080 0.44933)" font-size="100" font-weight="bold" style="stroke-width:1.505px">m</text>
<text transform="translate(772.7 217.95) rotate(-90) translate(-16.487 16.774) scale(0.43568 0.48728)" font-size="100" font-weight="bold" style="stroke-width:1.517px">G</text>
<path transform="translate(773.45 188.55) rotate(-90) translate(-7.000 16.100) scale(0.92715 0.98471)" d="M7.8,0 L15.1,0 L15.1,-32.7 L6.6,-32.7 L0,-28.4 L1.6,-23.3 L7.8,-26.8Z" fill="#231f20" stroke="#231f20" stroke-width="0.732" stroke-linejoin="miter"/>
<text transform="translate(773.15 163.5) rotate(-90) translate(-8.013 16.748) scale(0.57685 0.47540)" font-size="100" font-weight="bold" style="stroke-width:1.330px">/</text>
<text transform="translate(773.15 142.25) rotate(-90) translate(-12.756 16.400) scale(0.46319 0.46975)" font-size="100" font-weight="bold" style="stroke-width:1.501px">2</text>
<text transform="translate(772.7 1049.05) rotate(-90) translate(-16.263 16.774) scale(0.42975 0.48728)" font-size="100" font-weight="bold" style="stroke-width:1.527px">G</text>
<path transform="translate(773.45 1019.7) rotate(-90) translate(-6.550 16.100) scale(0.86755 0.98471)" d="M7.8,0 L15.1,0 L15.1,-32.7 L6.6,-32.7 L0,-28.4 L1.6,-23.3 L7.8,-26.8Z" fill="#231f20" stroke="#231f20" stroke-width="0.756" stroke-linejoin="miter"/>
<text transform="translate(773.15 995.25) rotate(-90) translate(-7.852 16.748) scale(0.56523 0.47540)" font-size="100" font-weight="bold" style="stroke-width:1.345px">/</text>
<text transform="translate(773.15 973.85) rotate(-90) translate(-12.756 16.400) scale(0.46319 0.46975)" font-size="100" font-weight="bold" style="stroke-width:1.501px">2</text>
<path transform="translate(226.4 1279.5) rotate(-90) translate(-7.150 15.950) scale(0.94702 0.97554)" d="M7.8,0 L15.1,0 L15.1,-32.7 L6.6,-32.7 L0,-28.4 L1.6,-23.3 L7.8,-26.8Z" fill="#231f20" stroke="#231f20" stroke-width="0.728" stroke-linejoin="miter"/>
<text transform="translate(226.8 1249.9) rotate(-90) translate(-13.261 16.288) scale(0.47604 0.47316)" font-size="100" font-weight="bold" style="stroke-width:1.475px">8</text>
<text transform="translate(231.2 1214.45) rotate(-90) translate(-10.789 11.910) scale(0.38131 0.45085)" font-size="100" font-weight="bold" style="stroke-width:1.682px">c</text>
<text transform="translate(231 1181.4) rotate(-90) translate(-21.293 11.750) scale(0.47686 0.43634)" font-size="100" font-weight="bold" style="stroke-width:1.533px">m</text>
<text transform="translate(480 627.75) rotate(4.2) translate(-17.467 16.941) scale(0.44904 0.49480)" font-size="100" font-weight="bold" style="stroke-width:1.483px">Ø</text>
<path transform="translate(521.5 630.75) rotate(4.2) translate(-8.028 15.502) scale(0.92955 0.95735)" d="M7.8,0 L15.1,0 L15.1,-32.7 L6.6,-32.7 L0,-28.4 L1.6,-23.3 L7.8,-26.8Z" fill="#231f20" stroke="#231f20" stroke-width="0.742" stroke-linejoin="miter"/>
<text transform="translate(550.25 632.75) rotate(4.2) translate(-11.942 15.828) scale(0.45299 0.46197)" font-size="100" font-weight="bold" style="stroke-width:1.530px">3</text>
<text transform="translate(586 639.25) rotate(4.2) translate(-11.134 11.945) scale(0.39170 0.45287)" font-size="100" font-weight="bold" style="stroke-width:1.658px">c</text>
<text transform="translate(618 641.25) rotate(4.2) translate(-21.194 11.582) scale(0.47896 0.43898)" font-size="100" font-weight="bold" style="stroke-width:1.525px">m</text>
<path transform="translate(329.8 1075.7) rotate(4.2) translate(-8.353 15.933) scale(0.96883 0.98420)" d="M7.8,0 L15.1,0 L15.1,-32.7 L6.6,-32.7 L0,-28.4 L1.6,-23.3 L7.8,-26.8Z" fill="#231f20" stroke="#231f20" stroke-width="0.717" stroke-linejoin="miter"/>
<text transform="translate(358.15 1077.3) rotate(4.2) translate(-11.820 16.170) scale(0.44826 0.47192)" font-size="100" font-weight="bold" style="stroke-width:1.521px">3</text>
<text transform="translate(394.3 1084.25) rotate(4.2) translate(-11.250 12.042) scale(0.39578 0.45651)" font-size="100" font-weight="bold" style="stroke-width:1.643px">c</text>
<text transform="translate(426.25 1086.2) rotate(4.2) translate(-21.225 11.930) scale(0.47982 0.45217)" font-size="100" font-weight="bold" style="stroke-width:1.502px">m</text>
<text transform="translate(245.5 468.5) rotate(10.5) translate(-17.413 16.087) scale(0.45443 0.46808)" font-size="100" font-weight="bold" style="stroke-width:1.518px">Ø</text>
<text transform="translate(286 478) rotate(10.5) translate(-12.193 15.191) scale(0.47156 0.46521)" font-size="100" font-weight="bold" style="stroke-width:1.494px">2</text>
<text transform="translate(313.25 482.25) rotate(10.5) translate(-12.842 16.199) scale(0.48278 0.47480)" font-size="100" font-weight="bold" style="stroke-width:1.462px">3</text>
<text transform="translate(348.5 494.25) rotate(10.5) translate(-11.502 11.946) scale(0.40157 0.45309)" font-size="100" font-weight="bold" style="stroke-width:1.638px">c</text>
<text transform="translate(379.5 500) rotate(10.5) translate(-19.936 12.067) scale(0.45897 0.46072)" font-size="100" font-weight="bold" style="stroke-width:1.522px">m</text>
<text transform="translate(730.2 760.55) rotate(84.5) translate(-13.310 15.500) scale(0.46449 0.45958)" font-size="100" font-weight="bold" style="stroke-width:1.515px">2</text>
<text transform="translate(733.4 788.55) rotate(84.5) translate(-11.880 16.042) scale(0.40941 0.46349)" font-size="100" font-weight="bold" style="stroke-width:1.604px">5</text>
<text transform="translate(733 823.75) rotate(84.5) translate(-11.168 12.115) scale(0.38952 0.45813)" font-size="100" font-weight="bold" style="stroke-width:1.652px">c</text>
<text transform="translate(736.05 856.4) rotate(84.5) translate(-21.020 11.453) scale(0.47095 0.43736)" font-size="100" font-weight="bold" style="stroke-width:1.541px">m</text>
<path transform="translate(662 811.95) rotate(85.3) translate(-7.173 16.408) scale(0.92394 0.98642)" d="M7.8,0 L15.1,0 L15.1,-32.7 L6.6,-32.7 L0,-28.4 L1.6,-23.3 L7.8,-26.8Z" fill="#231f20" stroke="#231f20" stroke-width="0.733" stroke-linejoin="miter"/>
<text transform="translate(664.2 841.9) rotate(85.3) translate(-13.564 16.050) scale(0.47463 0.46716)" font-size="100" font-weight="bold" style="stroke-width:1.487px">8</text>
<text transform="translate(662.8 877.15) rotate(85.3) translate(-11.657 12.305) scale(0.40717 0.46530)" font-size="100" font-weight="bold" style="stroke-width:1.605px">c</text>
<text transform="translate(666.2 909.8) rotate(85.3) translate(-21.147 11.928) scale(0.47368 0.45344)" font-size="100" font-weight="bold" style="stroke-width:1.510px">m</text>
<path transform="translate(762.4 1291.3) rotate(77) translate(-8.007 16.482) scale(0.97496 0.96350)" d="M7.8,0 L15.1,0 L15.1,-32.7 L6.6,-32.7 L0,-28.4 L1.6,-23.3 L7.8,-26.8Z" fill="#231f20" stroke="#231f20" stroke-width="0.722" stroke-linejoin="miter"/>
<text transform="translate(768.55 1320.55) rotate(77) translate(-11.327 17.184) scale(0.40635 0.48375)" font-size="100" font-weight="bold" style="stroke-width:1.573px">5</text>
<text transform="translate(775.6 1347.45) rotate(77) translate(-11.465 16.713) scale(0.41017 0.47002)" font-size="100" font-weight="bold" style="stroke-width:1.591px">5</text>
<text transform="translate(780.1 1382.9) rotate(77) translate(-12.143 12.202) scale(0.42075 0.46128)" font-size="100" font-weight="bold" style="stroke-width:1.587px">c</text>
<text transform="translate(786.75 1413.8) rotate(77) translate(-20.715 11.364) scale(0.46625 0.44741)" font-size="100" font-weight="bold" style="stroke-width:1.532px">m</text>
</svg>
</body></html>
